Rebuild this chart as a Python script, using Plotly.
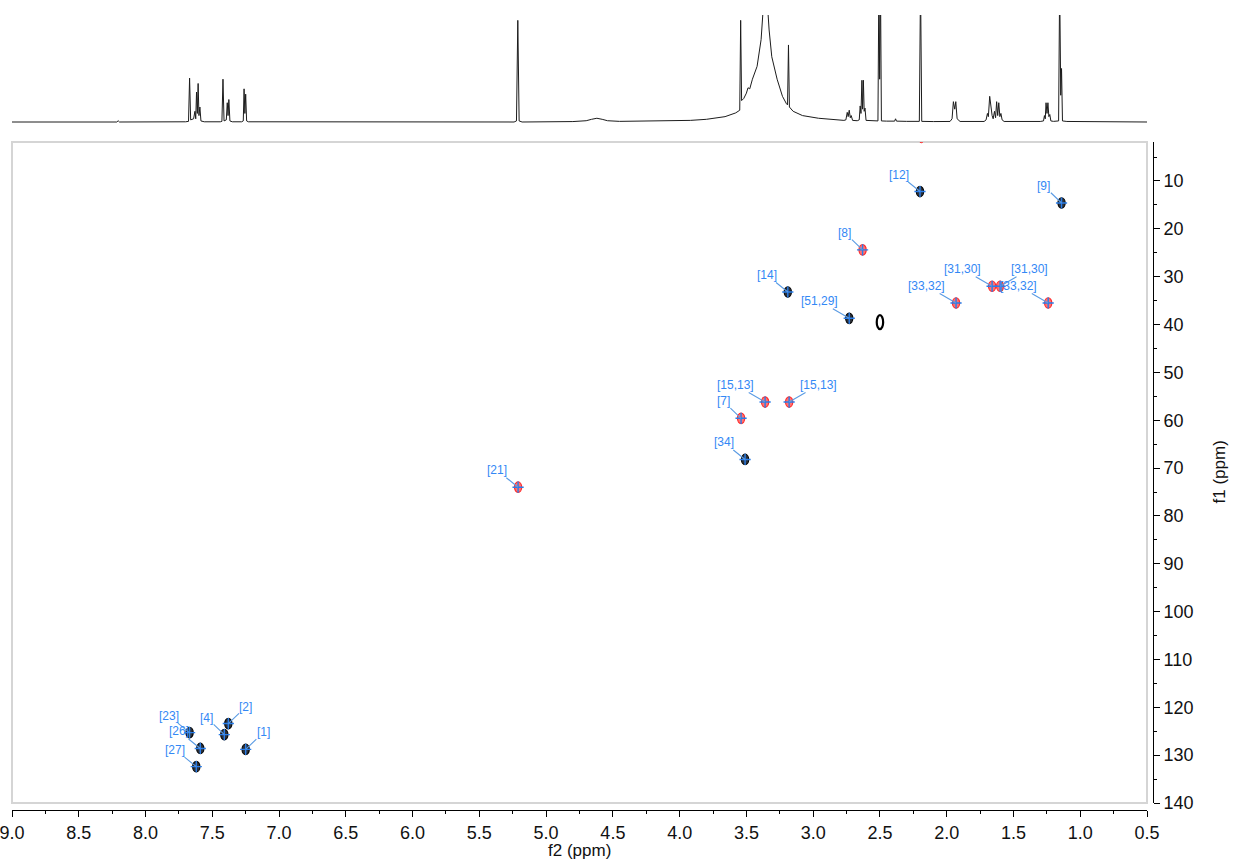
import plotly.graph_objects as go

# ------------------------------------------------------------------
# DATA
# ------------------------------------------------------------------
# 1D proton trace shown above the 2D map: chemical shift (ppm) and
# relative intensity (1.0 = top of the strip, larger values are clipped)
seg1_ppm = [9.00, 8.60, 8.215, 8.205, 8.195, 7.70, 7.678, 7.670, 7.662, 7.640,
            7.630, 7.624, 7.618, 7.612, 7.606, 7.600, 7.593, 7.585, 7.560]
seg1_int = [0.0, 0.0, 0.0, 0.012, 0.0, 0.002, 0.006, 0.41, 0.02, 0.03,
            0.10, 0.03, 0.28, 0.08, 0.36, 0.06, 0.14, 0.01, 0.002]

seg2_ppm = [7.440, 7.428, 7.420, 7.412, 7.395, 7.388, 7.382, 7.376, 7.368, 7.350,
            7.280, 7.268, 7.262, 7.256, 7.250, 7.243, 7.230]
seg2_int = [0.002, 0.006, 0.40, 0.01, 0.02, 0.18, 0.06, 0.21, 0.01, 0.002,
            0.002, 0.01, 0.31, 0.08, 0.26, 0.01, 0.002]

seg3_ppm = [5.240, 5.222, 5.212, 5.202, 5.180, 4.800, 4.700, 4.660, 4.620, 4.580,
            4.540, 4.450]
seg3_int = [0.0, 0.01, 0.95, 0.01, 0.0, 0.004, 0.012, 0.025, 0.035, 0.025,
            0.012, 0.006]

seg4_ppm = [4.20, 3.92, 3.80, 3.66, 3.58, 3.550, 3.543, 3.536, 3.520, 3.500,
            3.488, 3.475, 3.455, 3.420, 3.390, 3.372, 3.355, 3.340, 3.330, 3.310,
            3.270, 3.230, 3.200, 3.192, 3.185, 3.178, 3.150, 3.080, 2.960, 2.880,
            2.800]
seg4_int = [0.008, 0.015, 0.025, 0.05, 0.085, 0.11, 0.95, 0.20, 0.22, 0.27,
            0.32, 0.31, 0.40, 0.52, 0.77, 1.10, 1.15, 1.05, 0.86, 0.61,
            0.40, 0.24, 0.17, 0.16, 0.72, 0.14, 0.10, 0.06, 0.035, 0.025,
            0.018]

seg5_ppm = [2.770, 2.755, 2.745, 2.738, 2.730, 2.722, 2.715, 2.705, 2.670, 2.655,
            2.648, 2.642, 2.635, 2.630, 2.624, 2.618, 2.612, 2.604, 2.560, 2.515,
            2.508, 2.502, 2.496, 2.489, 2.450, 2.390, 2.383, 2.376, 2.300, 2.205,
            2.196, 2.187, 2.100]
seg5_int = [0.015, 0.02, 0.09, 0.05, 0.11, 0.04, 0.06, 0.015, 0.012, 0.02,
            0.15, 0.08, 0.39, 0.12, 0.39, 0.10, 0.13, 0.015, 0.01, 0.01,
            1.3, 0.4, 1.3, 0.01, 0.008, 0.008, 0.03, 0.008, 0.006, 0.006,
            1.3, 0.006, 0.004]

seg6_ppm = [1.975, 1.960, 1.950, 1.940, 1.932, 1.922, 1.900, 1.720, 1.705, 1.695,
            1.688, 1.678, 1.668, 1.660, 1.652, 1.642, 1.634, 1.626, 1.618, 1.610,
            1.602, 1.594, 1.585, 1.570, 1.300, 1.275, 1.268, 1.262, 1.256, 1.249,
            1.242, 1.235, 1.228, 1.220, 1.200, 1.162, 1.154, 1.146, 1.140, 1.133,
            1.100, 0.900, 0.880, 0.860, 0.500]
seg6_int = [0.005, 0.03, 0.19, 0.12, 0.19, 0.03, 0.005, 0.005, 0.02, 0.08,
            0.05, 0.24, 0.10, 0.06, 0.03, 0.10, 0.04, 0.19, 0.06, 0.18,
            0.05, 0.08, 0.02, 0.005, 0.005, 0.01, 0.06, 0.03, 0.18, 0.08,
            0.18, 0.05, 0.07, 0.01, 0.006, 0.01, 1.3, 0.25, 0.50, 0.01,
            0.005, 0.003, 0.008, 0.003, 0.0]

# 2D cross peaks (f2 = 1H ppm, f1 = 13C ppm)
peak_labels = ['[12]', '[9]', '[8]', '[14]', '[51,29]', '[33,32]', '[31,30]',
               '[31,30]', '[33,32]', '[15,13]', '[15,13]', '[7]', '[34]', '[21]',
               '[23]', '[26]', '[27]', '[4]', '[2]', '[1]']
peak_f2 = [2.20, 1.14, 2.63, 3.19, 2.73, 1.93, 1.66,
           1.60, 1.24, 3.36, 3.18, 3.54, 3.51, 5.21,
           7.67, 7.59, 7.62, 7.41, 7.38, 7.25]
peak_f1 = [12.2, 14.6, 24.4, 33.2, 38.7, 35.5, 32.0,
           32.0, 35.5, 56.2, 56.2, 59.6, 68.2, 74.0,
           125.3, 128.6, 132.4, 125.7, 123.4, 128.8]
peak_phase = ['pos', 'pos', 'neg', 'pos', 'pos', 'neg', 'neg',
              'neg', 'neg', 'neg', 'neg', 'neg', 'pos', 'neg',
              'pos', 'pos', 'pos', 'pos', 'pos', 'pos']
label_side = ['L', 'L', 'L', 'L', 'L', 'L', 'L',
              'R', 'L', 'L', 'R', 'L', 'L', 'L',
              'L', 'L', 'L', 'L', 'R', 'R']

# unlabeled solvent (DMSO) correlation and a peak cut at the top edge
solvent_f2 = [2.50]
solvent_f1 = [39.5]
edge_f2 = [2.19]
edge_f1 = [1.0]

x_tick_vals = [9.0, 8.5, 8.0, 7.5, 7.0, 6.5, 6.0, 5.5, 5.0, 4.5, 4.0, 3.5, 3.0,
               2.5, 2.0, 1.5, 1.0, 0.5]
x_tick_text = ['9.0', '8.5', '8.0', '7.5', '7.0', '6.5', '6.0', '5.5', '5.0', '4.5',
               '4.0', '3.5', '3.0', '2.5', '2.0', '1.5', '1.0', '0.5']
y_tick_vals = [10, 20, 30, 40, 50, 60, 70, 80, 90, 100, 110, 120, 130, 140]
y_tick_text = ['10', '20', '30', '40', '50', '60', '70', '80', '90', '100', '110',
               '120', '130', '140']

x_title = 'f2 (ppm)'
y_title = 'f1 (ppm)'

spec_ppm = seg1_ppm + seg2_ppm + seg3_ppm + seg4_ppm + seg5_ppm + seg6_ppm
spec_int = seg1_int + seg2_int + seg3_int + seg4_int + seg5_int + seg6_int

# ------------------------------------------------------------------
# GEOMETRY / STYLE
# ------------------------------------------------------------------
W, H = 1233, 865
PLOT_L, PLOT_R = 12, 1147
PLOT_T, PLOT_B = 142, 803
XAXIS_Y = 810
YAXIS_X = 1153
STRIP_T, STRIP_B = 15, 124

FONT = 'Liberation Sans, Arial, sans-serif'
TEXT_COL = '#111111'
LABEL_COL = '#3388f5'
LEADER_COL = '#5b9be3'
CROSS_COL = '#2a7de8'
RED_FILL, RED_EDGE = 'rgba(255,100,100,0.9)', '#ff2a2a'
BLK_FILL, BLK_EDGE = '#2c323b', '#050505'
HW, HH = 0.027, 1.1   # half size of a cross-peak blob (ppm)


def fx(px):
    return px / W


def fy(py):
    return 1 - py / H


fig = go.Figure()

# 1D trace on top
fig.add_trace(go.Scatter(
    x=spec_ppm, y=spec_int, mode='lines', xaxis='x2', yaxis='y2',
    line=dict(color='#1c1c1c', width=1), hoverinfo='skip', showlegend=False))

shapes = [dict(type='rect', xref='x domain', yref='y domain', x0=0, x1=1, y0=0, y1=1,
               line=dict(color='#d5d5d5', width=2), layer='below')]

for f2, f1, ph in zip(peak_f2, peak_f1, peak_phase):
    fill, edge = (RED_FILL, RED_EDGE) if ph == 'neg' else (BLK_FILL, BLK_EDGE)
    shapes.append(dict(type='circle', xref='x', yref='y',
                       x0=f2 - HW, x1=f2 + HW, y0=f1 - HH, y1=f1 + HH,
                       fillcolor=fill, line=dict(color=edge, width=1.2), layer='below'))

for f2, f1 in zip(solvent_f2, solvent_f1):
    shapes.append(dict(type='circle', xref='x', yref='y',
                       x0=f2 - 0.024, x1=f2 + 0.024, y0=f1 - 1.45, y1=f1 + 1.45,
                       fillcolor='white', line=dict(color='#000000', width=2.2), layer='below'))

for f2, f1 in zip(edge_f2, edge_f1):
    shapes.append(dict(type='circle', xref='x', yref='y',
                       x0=f2 - 0.02, x1=f2 + 0.02, y0=f1 - 1.0, y1=f1 + 1.0,
                       fillcolor=RED_FILL, line=dict(color=RED_EDGE, width=1), layer='below'))

# blue peak-pick crosses
fig.add_trace(go.Scatter(
    x=peak_f2, y=peak_f1, mode='markers', xaxis='x', yaxis='y',
    marker=dict(symbol='cross-thin', size=8, line=dict(color=CROSS_COL, width=1.4)),
    hoverinfo='skip', showlegend=False))

CHAR_W = {'[': 0.278, ']': 0.278, ',': 0.278}
LABEL_SIZE = 12

annotations = []
for lab, f2, f1, side in zip(peak_labels, peak_f2, peak_f1, label_side):
    w = sum(CHAR_W.get(c, 0.556) for c in lab) * LABEL_SIZE
    sgn = -1 if side == 'L' else 1
    annotations.append(dict(
        x=f2, y=f1, xref='x', yref='y', text=lab, showarrow=True,
        ax=sgn * (11 + w / 2), ay=-17, arrowhead=0, arrowwidth=1.1,
        arrowcolor=LEADER_COL, standoff=0, borderpad=0,
        font=dict(family=FONT, size=LABEL_SIZE, color=LABEL_COL)))

annotations.append(dict(
    x=fx((PLOT_L + PLOT_R) / 2), y=fy(850), xref='paper', yref='paper',
    text=x_title, showarrow=False, xanchor='center', yanchor='middle',
    font=dict(family=FONT, size=17, color=TEXT_COL)))
annotations.append(dict(
    x=fx(1219), y=fy((PLOT_T + PLOT_B) / 2), xref='paper', yref='paper',
    text=y_title, showarrow=False, xanchor='center', yanchor='middle', textangle=-90,
    font=dict(family=FONT, size=17, color=TEXT_COL)))

fig.update_layout(
    width=W, height=H, margin=dict(l=0, r=0, t=0, b=0, autoexpand=False),
    paper_bgcolor='white', plot_bgcolor='white', showlegend=False,
    shapes=shapes, annotations=annotations,
    xaxis=dict(
        domain=[fx(PLOT_L), fx(PLOT_R)], range=[9.0, 0.5], anchor='free',
        position=fy(XAXIS_Y), showline=True, linecolor='black', linewidth=1,
        ticks='outside', ticklen=6, tickwidth=1, tickcolor='black',
        tickmode='array', tickvals=x_tick_vals, ticktext=x_tick_text,
        tickfont=dict(family=FONT, size=18, color=TEXT_COL),
        ticklabeloverflow='allow', showgrid=False, zeroline=False, automargin=False,
        minor=dict(dtick=0.25, tick0=0, ticks='outside', ticklen=3,
                   tickcolor='black', showgrid=False)),
    yaxis=dict(
        domain=[fy(PLOT_B), fy(PLOT_T)], range=[140, 1.85], anchor='free',
        side='right', position=fx(YAXIS_X), showline=True, linecolor='black',
        linewidth=1, ticks='outside', ticklen=6, tickwidth=1, tickcolor='black',
        tickmode='array', tickvals=y_tick_vals, ticktext=y_tick_text,
        tickfont=dict(family=FONT, size=18, color=TEXT_COL),
        showgrid=False, zeroline=False, automargin=False,
        minor=dict(dtick=5, tick0=0, ticks='outside', ticklen=3,
                   tickcolor='black', showgrid=False)),
    xaxis2=dict(domain=[fx(PLOT_L), fx(PLOT_R)], range=[9.0, 0.5], anchor='y2',
                visible=False, showgrid=False, zeroline=False, automargin=False),
    yaxis2=dict(domain=[fy(STRIP_B), fy(STRIP_T)], range=[-0.0187, 1.0], anchor='x2',
                visible=False, showgrid=False, zeroline=False, automargin=False),
)

fig.write_html("out.html", config={'displayModeBar': False},
               post_script="document.body.style.margin='0';")
